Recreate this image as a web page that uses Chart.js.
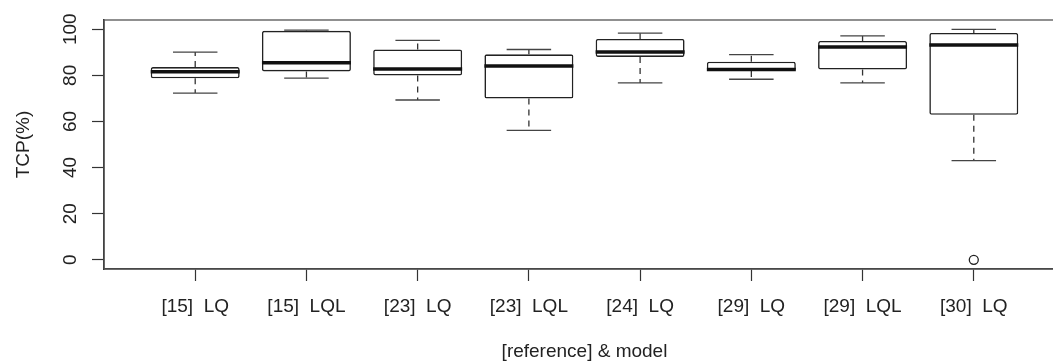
<!DOCTYPE html>
<html>
<head>
<meta charset="utf-8">
<script src="https://cdn.jsdelivr.net/npm/chart.js@4/dist/chart.umd.min.js"></script>
<style>
  html, body { margin: 0; padding: 0; background: #fff; overflow: hidden; }
  #wrap { width: 1075px; height: 364px; }
</style>
</head>
<body>
<div id="wrap"><canvas id="box" width="1075" height="364"></canvas></div>
<script>
// group labels (reference & model)
const labels = ['[15]  LQ', '[15]  LQL', '[23]  LQ', '[23]  LQL', '[24]  LQ', '[29]  LQ', '[29]  LQL', '[30]  LQ'];

// TCP(%) five-number summaries
const whiskerLow  = [72.3, 78.8, 69.3, 56.1, 76.7, 78.3, 76.7, 43.0];
const q1          = [78.7, 81.7, 79.9, 69.9, 88.0, 81.9, 82.5, 62.9];
const median      = [81.6, 85.5, 82.7, 84.1, 90.1, 82.5, 92.3, 93.2];
const q3          = [83.6, 99.3, 91.2, 89.1, 95.8, 85.9, 94.9, 98.4];
const whiskerHigh = [90.1, 99.6, 95.2, 91.2, 98.3, 89.0, 97.1, 99.9];

// outliers: group number (1-based) and value
const outlierGroup = [8];
const outlierValue = [0];

const yTicks = [0, 20, 40, 60, 80, 100];

const ink = '#222';
const font = { family: "'Liberation Sans', Arial, sans-serif", size: 19 };

// whiskers, caps and medians, placed through the chart's scales
const boxExtras = {
    id: 'boxExtras',
    afterDatasetsDraw(chart) {
        const ctx = chart.ctx;
        const xs = chart.scales.x;
        const ys = chart.scales.y;
        const bars = chart.getDatasetMeta(0).data;
        ctx.save();
        labels.forEach((_, i) => {
            const cx = xs.getPixelForValue(i + 1);
            const half = bars[i].width / 2;
            const cap = half / 2;
            const yLo = ys.getPixelForValue(whiskerLow[i]);
            const yQ1 = ys.getPixelForValue(q1[i]);
            const yQ3 = ys.getPixelForValue(q3[i]);
            const yHi = ys.getPixelForValue(whiskerHigh[i]);
            const yMed = ys.getPixelForValue(median[i]);

            // dashed whisker stems
            ctx.strokeStyle = '#333';
            ctx.lineWidth = 1.3;
            ctx.setLineDash([6, 5]);
            ctx.beginPath();
            ctx.moveTo(cx, yQ1); ctx.lineTo(cx, yLo);
            ctx.moveTo(cx, yQ3); ctx.lineTo(cx, yHi);
            ctx.stroke();

            // caps
            ctx.setLineDash([]);
            ctx.strokeStyle = '#444';
            ctx.beginPath();
            ctx.moveTo(cx - cap, yLo); ctx.lineTo(cx + cap, yLo);
            ctx.moveTo(cx - cap, yHi); ctx.lineTo(cx + cap, yHi);
            ctx.stroke();

            // median
            ctx.strokeStyle = '#111';
            ctx.lineWidth = 3.5;
            ctx.beginPath();
            ctx.moveTo(cx - half, yMed); ctx.lineTo(cx + half, yMed);
            ctx.stroke();
        });
        ctx.restore();
    },
    afterDraw(chart) {
        // plot frame
        const a = chart.chartArea;
        const ctx = chart.ctx;
        ctx.save();
        ctx.strokeStyle = '#555';
        ctx.lineWidth = 1.3;
        ctx.strokeRect(a.left, a.top, a.right - a.left, a.bottom - a.top);
        ctx.restore();
    }
};

const boxData = labels.map((_, i) => ({ x: i + 1, y: [q1[i], q3[i]] }));
const outlierData = outlierGroup.map((g, i) => ({ x: g, y: outlierValue[i] }));

// eslint-disable-next-line no-undef
new Chart(document.getElementById('box'), {
    type: 'bar',
    data: {
        datasets: [{
            data: boxData,
            backgroundColor: '#fff',
            borderColor: ink,
            borderWidth: 1.6,
            borderSkipped: false,
            borderRadius: 2,
            categoryPercentage: 1,
            barPercentage: 0.8
        }, {
            type: 'scatter',
            data: outlierData,
            pointStyle: 'circle',
            pointRadius: 4.5,
            backgroundColor: '#fff',
            borderColor: ink,
            borderWidth: 1.3
        }]
    },
    options: {
        responsive: false,
        animation: false,
        devicePixelRatio: 1,
        layout: { padding: { top: 20, right: 10, left: 0, bottom: 0 } },
        plugins: { legend: { display: false }, tooltip: { enabled: false } },
        scales: {
            x: {
                type: 'linear',
                offset: false,
                min: 0.18,
                max: 8.82,
                afterBuildTicks: s => { s.ticks = labels.map((_, i) => ({ value: i + 1 })); },
                afterFit: s => { s.height = 95; },
                ticks: {
                    callback: v => labels[v - 1] || '',
                    color: ink,
                    font,
                    padding: 14,
                    maxRotation: 0,
                    autoSkip: false
                },
                grid: { offset: false, drawOnChartArea: false, tickLength: 12, tickColor: '#333', tickWidth: 1.2 },
                border: { display: true, color: '#333', width: 1.5 },
                title: { display: true, text: '[reference] & model', color: ink, font, padding: { top: 0, bottom: 1 } }
            },
            y: {
                min: -4,
                max: 104,
                afterBuildTicks: s => { s.ticks = yTicks.map(v => ({ value: v })); },
                afterFit: s => { s.width = 104; },
                ticks: {
                    color: ink,
                    font,
                    minRotation: 90,
                    maxRotation: 90,
                    crossAlign: 'center',
                    padding: 5
                },
                grid: { drawOnChartArea: false, tickLength: 12, tickColor: '#333', tickWidth: 1.2 },
                border: { display: true, color: '#222', width: 1.5 },
                title: { display: true, text: 'TCP(%)', color: ink, font, padding: { top: 12, bottom: 0 } }
            }
        }
    },
    plugins: [boxExtras]
});
</script>
</body>
</html>
